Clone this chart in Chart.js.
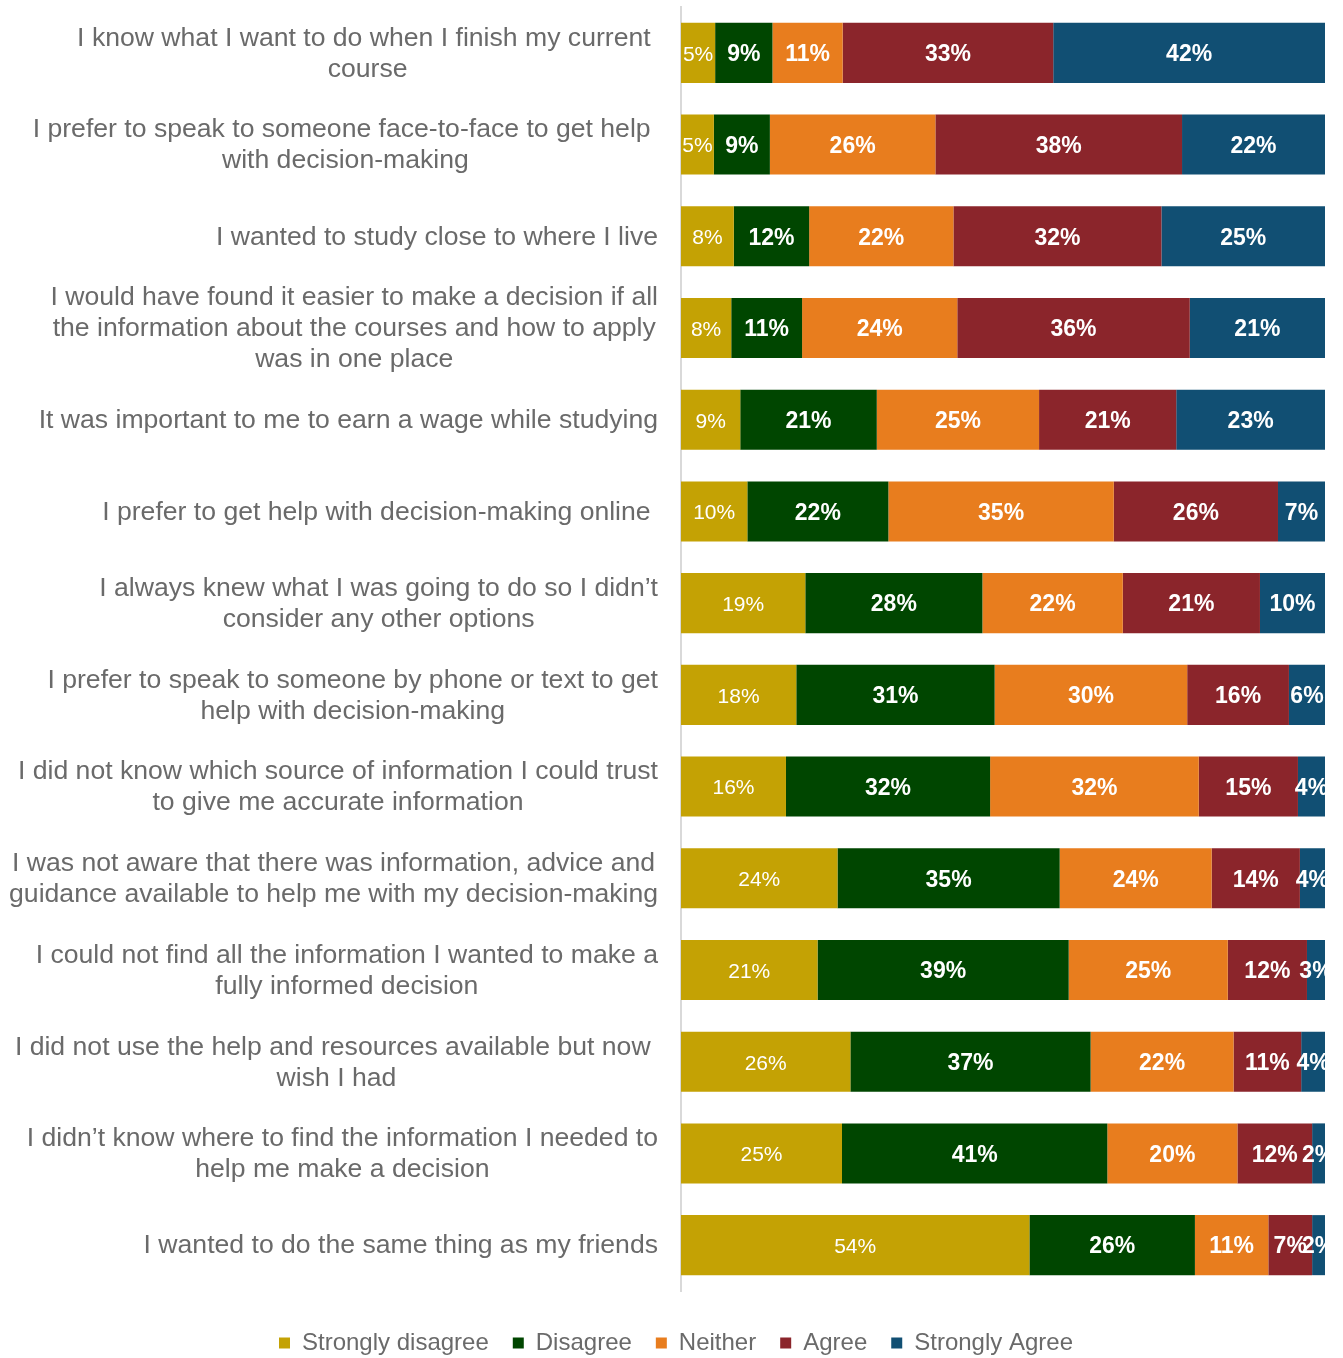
<!DOCTYPE html>
<html>
<head>
<meta charset="utf-8">
<script src="https://cdn.jsdelivr.net/npm/chart.js@4.4.1/dist/chart.umd.min.js"></script>
<style>
  html, body { margin: 0; padding: 0; background: #fff; }
  #wrap { width: 1343px; height: 1358px; }
</style>
</head>
<body>
<div id="wrap"><canvas id="surveyChart" width="1343" height="1358"></canvas></div>
<script>
// --- data ---
const statements = [
    ['I know what I want to do when I finish my current ', 'course'],
    ['I prefer to speak to someone face-to-face to get help ', 'with decision-making'],
    ['I wanted to study close to where I live'],
    ['I would have found it easier to make a decision if all', 'the information about the courses and how to apply', 'was in one place'],
    ['It was important to me to earn a wage while studying'],
    ['I prefer to get help with decision-making online '],
    ['I always knew what I was going to do so I didn\u2019t', 'consider any other options'],
    ['I prefer to speak to someone by phone or text to get', 'help with decision-making'],
    ['I did not know which source of information I could trust', 'to give me accurate information'],
    ['I was not aware that there was information, advice and', 'guidance available to help me with my decision-making'],
    ['I could not find all the information I wanted to make a', 'fully informed decision'],
    ['I did not use the help and resources available but now ', 'wish I had'],
    ['I didn\u2019t know where to find the information I needed to', 'help me make a decision'],
    ['I wanted to do the same thing as my friends']
];

const responseLabels = ['Strongly disagree', 'Disagree', 'Neither', 'Agree', 'Strongly Agree'];

const stronglyDisagree = [5.3, 5.1, 8.2, 7.8, 9.2, 10.3, 19.3, 17.9, 16.3, 24.3, 21.2, 26.3, 25.0, 54.1];
const disagree         = [8.9, 8.7, 11.7, 11.0, 21.2, 21.9, 27.5, 30.8, 31.7, 34.5, 39.0, 37.3, 41.2, 25.7];
const neither          = [10.9, 25.7, 22.4, 24.1, 25.2, 35.0, 21.8, 29.9, 32.4, 23.6, 24.7, 22.2, 20.2, 11.4];
const agree            = [32.7, 38.3, 32.3, 36.1, 21.3, 25.5, 21.3, 15.8, 15.4, 13.7, 12.3, 10.5, 11.6, 6.8];
const stronglyAgree    = [42.2, 22.2, 25.4, 21.0, 23.1, 7.3, 10.1, 5.6, 4.2, 3.9, 2.8, 3.7, 2.0, 2.0];

const seriesColors = ['#C4A204', '#004600', '#E87D1E', '#8B252B', '#114F73'];

const FONT = '"Liberation Sans", Arial, sans-serif';
const TEXT_GREY = '#6a6a6a';

// --- plugins ---

// wrapped category labels: each block centred on itself, block right-aligned to the axis
const statementLabels = {
    id: 'statementLabels',
    afterDraw(chart) {
        const { ctx } = chart;
        const yScale = chart.scales.y;
        const rightEdge = chart.chartArea.left - 23;
        const lineHeight = 31;
        ctx.save();
        ctx.font = '26.6px ' + FONT;
        ctx.fillStyle = TEXT_GREY;
        ctx.textAlign = 'center';
        ctx.textBaseline = 'middle';
        statements.forEach((lines, i) => {
            const blockW = Math.max(...lines.map(l => ctx.measureText(l).width));
            const cx = rightEdge - blockW / 2;
            const cy = yScale.getPixelForValue(i) + 1;
            const top = cy - (lines.length - 1) * lineHeight / 2;
            lines.forEach((l, j) => ctx.fillText(l, cx, top + j * lineHeight));
        });
        ctx.restore();
    }
};

// percentage labels inside each segment
const segmentLabels = {
    id: 'segmentLabels',
    afterDatasetsDraw(chart) {
        const { ctx, chartArea } = chart;
        ctx.save();
        ctx.beginPath();
        ctx.rect(chartArea.left, chartArea.top, chartArea.right - chartArea.left, chartArea.bottom - chartArea.top);
        ctx.clip();
        ctx.fillStyle = '#ffffff';
        ctx.textAlign = 'center';
        ctx.textBaseline = 'middle';
        chart.data.datasets.forEach((ds, di) => {
            const meta = chart.getDatasetMeta(di);
            ctx.font = di === 0 ? '21px ' + FONT : 'bold 23px ' + FONT;
            meta.data.forEach((bar, i) => {
                const txt = Math.round(ds.data[i]) + '%';
                const x = (bar.x + bar.base) / 2;
                ctx.fillText(txt, x, bar.y + 2);
            });
        });
        ctx.restore();
    }
};

// --- chart ---
const ctx = document.getElementById('surveyChart').getContext('2d');
const seriesData = [stronglyDisagree, disagree, neither, agree, stronglyAgree];

new Chart(ctx, {
    type: 'bar',
    data: {
        labels: statements.map(s => s.join(' ')),
        datasets: responseLabels.map((label, i) => ({
            label,
            data: seriesData[i],
            backgroundColor: seriesColors[i],
            borderWidth: 0,
            barPercentage: 0.655,
            categoryPercentage: 1
        }))
    },
    options: {
        indexAxis: 'y',
        responsive: false,
        animation: false,
        layout: { padding: { left: 9, right: 0, top: 7, bottom: -7 } },
        scales: {
            x: {
                stacked: true,
                min: 0,
                max: 100,
                ticks: { display: false },
                grid: { display: false },
                border: { display: false },
                afterFit(scale) { scale.height = 16; }
            },
            y: {
                stacked: true,
                ticks: { display: false },
                grid: { display: false },
                border: { display: true, color: '#d9d9d9', width: 2 },
                afterFit(scale) { scale.width = 672; }
            },
            yRight: {
                type: 'linear',
                position: 'right',
                ticks: { display: false },
                grid: { display: false },
                border: { display: false },
                afterFit(scale) { scale.width = 18; }
            }
        },
        plugins: {
            tooltip: { enabled: false },
            legend: {
                position: 'bottom',
                labels: {
                    boxWidth: 11,
                    boxHeight: 11,
                    padding: 24,
                    color: TEXT_GREY,
                    font: { family: FONT, size: 24 }
                }
            }
        }
    },
    plugins: [statementLabels, segmentLabels]
});
</script>
</body>
</html>
